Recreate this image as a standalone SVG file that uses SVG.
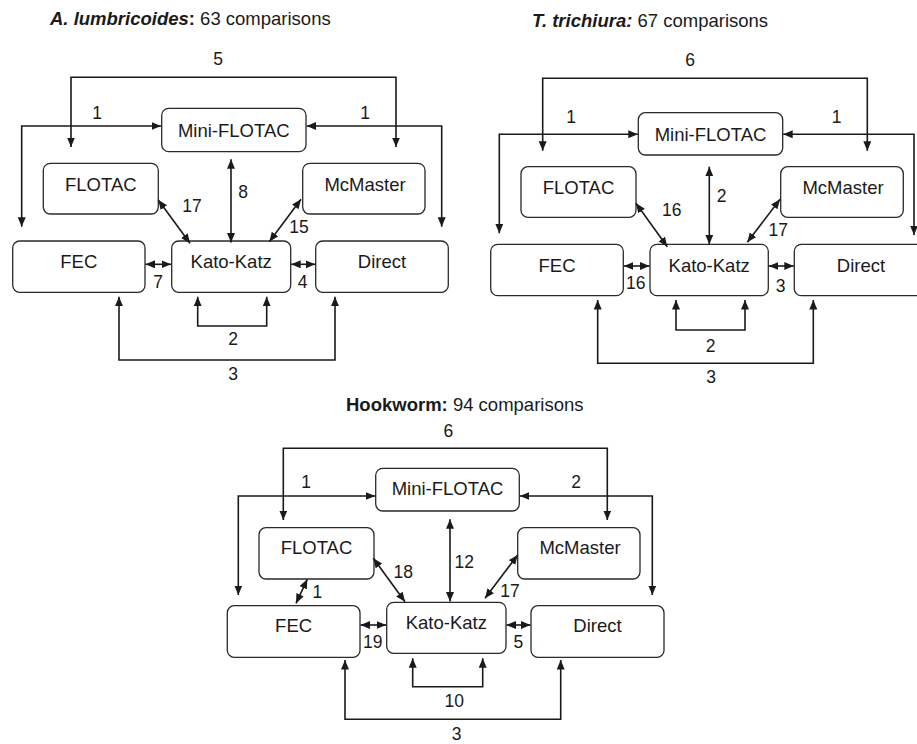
<svg xmlns="http://www.w3.org/2000/svg" width="917" height="744" viewBox="0 0 917 744">
<style>
  .box { fill: #ffffff; stroke: #2a2a2a; stroke-width: 1.3; }
  .lbl { font-family: "Liberation Sans", Arial, sans-serif; font-size: 18.5px; fill: #1a1a1a; text-anchor: middle; }
  .num { font-family: "Liberation Sans", Arial, sans-serif; font-size: 17.5px; fill: #1a1a1a; text-anchor: middle; }
  .title { font-family: "Liberation Sans", Arial, sans-serif; font-size: 18.5px; fill: #1a1a1a; }
  .c { fill: none; stroke: #1a1a1a; stroke-width: 1.6; marker-start: url(#ah); marker-end: url(#ah); }
</style>
<defs>
  <marker id="ah" markerUnits="userSpaceOnUse" markerWidth="11" markerHeight="9" refX="9.5" refY="4" orient="auto-start-reverse">
    <path d="M0,0 L9.5,4 L0,8 z" fill="#1a1a1a"/>
  </marker>
</defs>
<rect width="917" height="744" fill="#ffffff"/>

<!-- Titles -->
<text class="title" x="50" y="25"><tspan font-weight="bold" font-style="italic">A. lumbricoides</tspan><tspan font-weight="bold">:</tspan> 63 comparisons</text>
<text class="title" x="532" y="27"><tspan font-weight="bold" font-style="italic">T. trichiura:</tspan> 67 comparisons</text>
<text class="title" x="346" y="411"><tspan font-weight="bold">Hookworm:</tspan> 94 comparisons</text>

<!-- Panel A nodes -->
<g id="a-miniflotac"><rect class="box" x="161.7" y="108.3" width="144.3" height="43.4" rx="7"/><text class="lbl" x="233.8" y="136.5">Mini-FLOTAC</text></g>
<g id="a-flotac"><rect class="box" x="43.3" y="163.3" width="115" height="50.7" rx="7"/><text class="lbl" x="100.8" y="190.5">FLOTAC</text></g>
<g id="a-mcmaster"><rect class="box" x="302.7" y="163.3" width="122.3" height="50.7" rx="7"/><text class="lbl" x="365" y="190.5">McMaster</text></g>
<g id="a-fec"><rect class="box" x="12.7" y="241" width="132.3" height="51.3" rx="7"/><text class="lbl" x="78.8" y="268.3">FEC</text></g>
<g id="a-katokatz"><rect class="box" x="171.7" y="241" width="119" height="51.3" rx="7"/><text class="lbl" x="231.2" y="268.3">Kato-Katz</text></g>
<g id="a-direct"><rect class="box" x="315.7" y="241" width="132.6" height="51.3" rx="7"/><text class="lbl" x="382" y="268.3">Direct</text></g>

<!-- Panel B nodes -->
<g id="b-miniflotac"><rect class="box" x="638.3" y="112.7" width="144.4" height="42.3" rx="7"/><text class="lbl" x="710.5" y="140.5">Mini-FLOTAC</text></g>
<g id="b-flotac"><rect class="box" x="521" y="166.7" width="115" height="50.6" rx="7"/><text class="lbl" x="578.5" y="193.5">FLOTAC</text></g>
<g id="b-mcmaster"><rect class="box" x="780.7" y="166.7" width="122.6" height="50.6" rx="7"/><text class="lbl" x="843" y="193.5">McMaster</text></g>
<g id="b-fec"><rect class="box" x="490.7" y="244.3" width="132.6" height="51.4" rx="7"/><text class="lbl" x="557" y="271.7">FEC</text></g>
<g id="b-katokatz"><rect class="box" x="650" y="244.3" width="118.3" height="51.4" rx="7"/><text class="lbl" x="709.2" y="271.7">Kato-Katz</text></g>
<g id="b-direct"><rect class="box" x="794.3" y="244.3" width="133" height="51.4" rx="7"/><text class="lbl" x="861" y="271.7">Direct</text></g>

<!-- Panel C nodes -->
<g id="c-miniflotac"><rect class="box" x="375.7" y="468.3" width="143.6" height="42.7" rx="7"/><text class="lbl" x="447.5" y="495">Mini-FLOTAC</text></g>
<g id="c-flotac"><rect class="box" x="259" y="527.7" width="115" height="51.3" rx="7"/><text class="lbl" x="316.5" y="554.3">FLOTAC</text></g>
<g id="c-mcmaster"><rect class="box" x="517.7" y="527.7" width="122.3" height="51.3" rx="7"/><text class="lbl" x="580" y="554.3">McMaster</text></g>
<g id="c-fec"><rect class="box" x="227.3" y="605.7" width="132.7" height="51.6" rx="7"/><text class="lbl" x="293.6" y="631.7">FEC</text></g>
<g id="c-katokatz"><rect class="box" x="386.7" y="602.3" width="119.3" height="51" rx="7"/><text class="lbl" x="446.3" y="629.3">Kato-Katz</text></g>
<g id="c-direct"><rect class="box" x="531" y="605.7" width="133" height="51.6" rx="7"/><text class="lbl" x="597.5" y="631.7">Direct</text></g>

<!-- Connectors -->
<g id="connectors">
  <!-- A -->
  <path class="c" d="M71,147 V77.3 H396 V147"/>
  <path class="c" d="M161,126 H21.7 V226.7"/>
  <path class="c" d="M306.7,126 H441.7 V226.7"/>
  <path class="c" d="M231,159.3 V242.5"/>
  <path class="c" d="M158.3,200 L190,243.3"/>
  <path class="c" d="M301,199.3 L269.3,241.7"/>
  <path class="c" d="M145.5,264.3 H171"/>
  <path class="c" d="M291.2,264.3 H315.2"/>
  <path class="c" d="M197.7,296.7 V326 H266.7 V296.7"/>
  <path class="c" d="M119,296.7 V360 H335 V296.7"/>
  <!-- B -->
  <path class="c" d="M542.7,150.7 V78.3 H867.3 V150.7"/>
  <path class="c" d="M637.8,134.3 H499.3 V233.3"/>
  <path class="c" d="M783.2,134.3 H914 V235"/>
  <path class="c" d="M709.3,166.7 V244.3"/>
  <path class="c" d="M636,203.3 L667.3,246.7"/>
  <path class="c" d="M780,199.3 L747.3,242.3"/>
  <path class="c" d="M623.8,266 H649.5"/>
  <path class="c" d="M768.8,266 H793.8"/>
  <path class="c" d="M676,300 V330 H745 V300"/>
  <path class="c" d="M597.7,300 V363.3 H813.3 V300"/>
  <!-- C -->
  <path class="c" d="M283.3,520 V448.3 H607.3 V520"/>
  <path class="c" d="M375.2,496 H238.3 V595"/>
  <path class="c" d="M519.8,496 H652.3 V595"/>
  <path class="c" d="M450,519.3 V601.5"/>
  <path class="c" d="M307.3,579.3 L296,603.3"/>
  <path class="c" d="M373.3,558.3 L405,601.7"/>
  <path class="c" d="M517.7,555 L485,598.3"/>
  <path class="c" d="M360.5,625 H386.2"/>
  <path class="c" d="M506.5,625 H530.5"/>
  <path class="c" d="M412.7,658.3 V686.7 H482.7 V658.3"/>
  <path class="c" d="M345,660 V719.3 H560.7 V660"/>
</g>

<!-- Connector labels -->
<g id="labels">
  <text class="num" x="218" y="65">5</text>
  <text class="num" x="97" y="119">1</text>
  <text class="num" x="365" y="119">1</text>
  <text class="num" x="243" y="198">8</text>
  <text class="num" x="192" y="212">17</text>
  <text class="num" x="299" y="233">15</text>
  <text class="num" x="158" y="288">7</text>
  <text class="num" x="302.7" y="288">4</text>
  <text class="num" x="233" y="345">2</text>
  <text class="num" x="233" y="380">3</text>

  <text class="num" x="690" y="66">6</text>
  <text class="num" x="571" y="122.7">1</text>
  <text class="num" x="836.7" y="122.7">1</text>
  <text class="num" x="721.7" y="201.7">2</text>
  <text class="num" x="671.7" y="216">16</text>
  <text class="num" x="778.3" y="236">17</text>
  <text class="num" x="635.7" y="288.7">16</text>
  <text class="num" x="780.7" y="291.7">3</text>
  <text class="num" x="710.7" y="351.7">2</text>
  <text class="num" x="711" y="383.3">3</text>

  <text class="num" x="448.3" y="437.3">6</text>
  <text class="num" x="306" y="488.3">1</text>
  <text class="num" x="576" y="488.3">2</text>
  <text class="num" x="464.3" y="568.3">12</text>
  <text class="num" x="403.3" y="578.3">18</text>
  <text class="num" x="510" y="596.7">17</text>
  <text class="num" x="317.3" y="598.3">1</text>
  <text class="num" x="372.7" y="648.3">19</text>
  <text class="num" x="518.3" y="648.3">5</text>
  <text class="num" x="454.3" y="706.7">10</text>
  <text class="num" x="456.7" y="740">3</text>
</g>
</svg>
